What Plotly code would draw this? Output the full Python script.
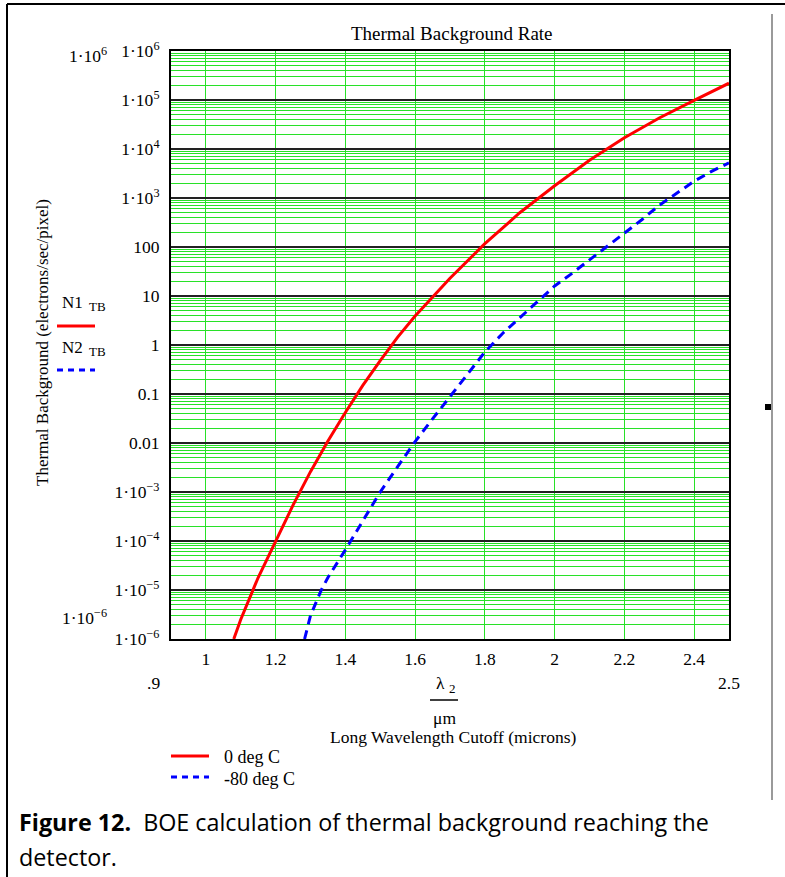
import plotly.graph_objects as go

# ---- data ----
wl_0C = [1.08, 1.10, 1.15, 1.20, 1.25, 1.30, 1.35, 1.40, 1.45, 1.50, 1.55, 1.60,
         1.70, 1.80, 1.90, 2.00, 2.10, 2.20, 2.30, 2.40, 2.50]
tb_0C = [1.0e-6, 2.5e-6, 1.8e-5, 1.0e-4, 5.4e-4, 2.6e-3, 1.1e-2, 4.2e-2, 1.5e-1, 4.8e-1,
         1.45, 3.9, 23, 117, 500, 1780, 5900, 1.7e4, 4.3e4, 9.8e4, 2.2e5]

wl_m80C = [1.283, 1.30, 1.331, 1.35, 1.40, 1.45, 1.50, 1.55, 1.60, 1.65, 1.70, 1.75,
           1.80, 1.85, 1.90, 1.95, 2.00, 2.05, 2.10, 2.15, 2.20, 2.25, 2.30, 2.35,
           2.40, 2.45, 2.50]
tb_m80C = [1.0e-6, 3.0e-6, 1.0e-5, 1.8e-5, 6.6e-5, 2.6e-4, 1.0e-3, 3.3e-3, 1.07e-2,
           3.1e-2, 8.9e-2, 0.26, 0.72, 1.7, 3.6, 7.8, 16, 29, 54, 100, 190, 360, 710,
           1260, 2200, 3500, 5200]

x_ticks = [1.0, 1.2, 1.4, 1.6, 1.8, 2.0, 2.2, 2.4]
x_tick_labels = ["1", "1.2", "1.4", "1.6", "1.8", "2", "2.2", "2.4"]

y_ticks = [1e-6, 1e-5, 1e-4, 1e-3, 1e-2, 1e-1, 1, 10, 100, 1e3, 1e4, 1e5, 1e6]
y_tick_labels = ["1·10<sup>−6</sup>", "1·10<sup>−5</sup>", "1·10<sup>−4</sup>",
                 "1·10<sup>−3</sup>", "0.01", "0.1", "1", "10", "100",
                 "1·10<sup>3</sup>", "1·10<sup>4</sup>", "1·10<sup>5</sup>",
                 "1·10<sup>6</sup>"]
y_minor = [k * 10.0 ** n for n in range(-6, 6) for k in range(2, 10)]

# ---- geometry helpers (pixel -> paper) ----
W, H = 785, 877
L, R, T, B = 171, 729, 51, 639
PW, PH = R - L, B - T


def px(x):
    return (x - L) / PW


def py(y):
    return (B - y) / PH


SERIF = "Liberation Serif"
GREEN = "rgb(40,225,40)"

fig = go.Figure()
fig.add_trace(go.Scatter(x=wl_0C, y=tb_0C, mode="lines", name="0 deg C",
                         line=dict(color="#ff0000", width=3), showlegend=False))
fig.add_trace(go.Scatter(x=wl_m80C, y=tb_m80C, mode="lines", name="-80 deg C",
                         line=dict(color="#0000ff", width=3, dash="9px,6px"),
                         showlegend=False))

fig.update_layout(
    width=W, height=H, autosize=False,
    margin=dict(l=L, r=W - R, t=T, b=H - B, pad=0),
    paper_bgcolor="white", plot_bgcolor="white",
    font=dict(family=SERIF, size=17, color="black"),
    xaxis=dict(range=[0.9, 2.5], tickmode="array", tickvals=x_ticks,
               ticktext=x_tick_labels, showgrid=True, gridcolor=GREEN, gridwidth=1,
               zeroline=False, showline=True, mirror=True, linecolor="black",
               linewidth=2, ticks="", ticklabelstandoff=3,
               tickfont=dict(family=SERIF, size=17.5, color="black")),
    yaxis=dict(type="log", range=[-6, 6], tickmode="array", tickvals=y_ticks,
               ticktext=y_tick_labels, showgrid=True, gridcolor="#222222",
               gridwidth=2, zeroline=False, showline=True, mirror=True,
               linecolor="black", linewidth=2, ticks="", ticklabelstandoff=6,
               tickfont=dict(family=SERIF, size=17.5, color="black"),
               minor=dict(tickmode="array", tickvals=y_minor, showgrid=True,
                          gridcolor=GREEN, gridwidth=1, ticks="")),
)

shapes = []


def line(x0, y0, x1, y1, color="black", width=2, dash=None):
    d = dict(type="line", xref="paper", yref="paper", x0=px(x0), y0=py(y0),
             x1=px(x1), y1=py(y1), line=dict(color=color, width=width))
    if dash:
        d["line"]["dash"] = dash
    shapes.append(d)


# outer frame (top and left), right grey rule, small marker
line(7, 4, 785, 4, "black", 2)
line(7, 4, 7, 877, "black", 2)
line(772, 14, 772, 800, "#9a9a9a", 2)
shapes.append(dict(type="rect", xref="paper", yref="paper", x0=px(765), y0=py(410),
                   x1=px(771), y1=py(404), fillcolor="black", line=dict(width=0)))
# left legend (Mathcad trace names)
line(57, 326, 95, 326, "#ff0000", 3)
line(57, 370, 95, 370, "#0000ff", 3, "6px,5px")
# bottom legend
line(171, 756, 209, 756, "#ff0000", 3)
line(171, 777, 209, 777, "#0000ff", 3, "6px,5px")
# fraction bar lambda_2 / um
line(430, 700, 458, 700, "black", 1.5)

annots = []


def ann(text, x, y, size=17, xanchor="center", family=SERIF, angle=0):
    annots.append(dict(text=text, xref="paper", yref="paper", x=px(x), y=py(y),
                       xanchor=xanchor, yanchor="middle", showarrow=False,
                       textangle=angle, font=dict(family=family, size=size,
                                                  color="black")))


ann("Thermal Background Rate", 452, 34, 19)
ann("Thermal Background (electrons/sec/pixel)", 42, 343, 17, angle=-90)
ann("1·10<sup>6</sup>", 109, 55, 17.5, xanchor="right")
ann("1·10<sup>−6</sup>", 109, 617, 17.5, xanchor="right")
ann("N1", 72, 302, 17)
ann("TB", 97, 306, 13)
ann("N2", 72, 347, 17)
ann("TB", 97, 351, 13)
ann(".9", 153, 683, 17.5)
ann("2.5", 729, 683, 17.5)
ann("λ", 440, 683, 17.5)
ann("2", 452, 688, 13)
ann("μm", 444, 718, 17.5)
ann("Long Wavelength Cutoff (microns)", 453, 737, 17.5)
ann("0 deg C", 222, 757, 18, xanchor="left")
ann("-80 deg C", 222, 779, 18, xanchor="left")
ann("<b>Figure 12.</b>\u00a0 BOE calculation of thermal background reaching the",
    17, 822, 23.3, xanchor="left", family="Open Sans")
ann("detector.", 17, 857, 23.3, xanchor="left", family="Open Sans")

fig.update_layout(shapes=shapes, annotations=annots)
fig.write_html("out.html")
